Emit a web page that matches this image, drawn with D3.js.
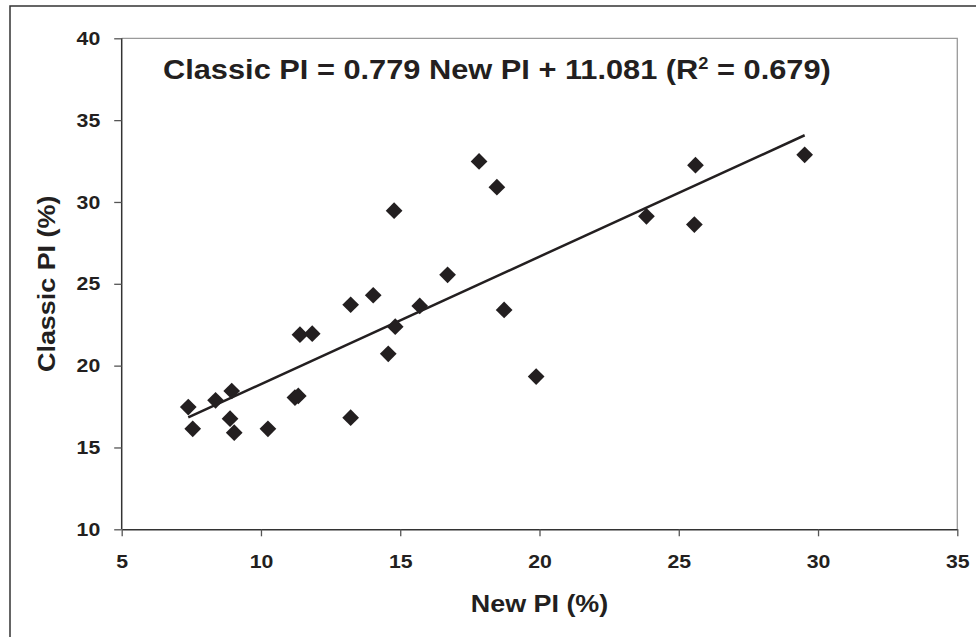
<!DOCTYPE html>
<html>
<head>
<meta charset="utf-8">
<script src="https://cdn.jsdelivr.net/npm/d3@7"></script>
<style>
  body { margin: 0; background: #fff; }
  svg text { font-family: "Liberation Sans", Arial, sans-serif; font-weight: bold; fill: #231f20; }
</style>
</head>
<body>
<div id="chart"></div>
<script>
// values
let newPI     = [7.39, 7.55, 8.37, 8.95, 8.89, 9.04, 10.25, 11.40, 11.84, 11.22, 11.34, 13.22, 14.03, 13.22,
                 14.82, 14.57, 14.78, 15.70, 16.70, 17.83, 18.47, 18.73, 19.88, 23.84, 25.60, 25.56, 29.52];
let classicPI = [17.47, 16.14, 17.88, 18.45, 16.76, 15.90, 16.14, 21.89, 21.95, 18.05, 18.15, 23.72, 24.30, 16.82,
                 22.38, 20.72, 29.47, 23.65, 25.55, 32.48, 30.90, 23.40, 19.33, 29.12, 32.25, 28.62, 32.88];
let xTicks = [5, 10, 15, 20, 25, 30, 35];
let yTicks = [10, 15, 20, 25, 30, 35, 40];
let slope = 0.779;
let intercept = 11.081;
let r2 = 0.679;

let width = 976;
let height = 637;
let margin = {top: 38.3, right: 18.7, bottom: 107.7, left: 121.7};

// the original font is wider than Liberation Sans, stretch along the text
let stretchTick = 1.12;
let stretchTitle = 1.14;
let stretchLabel = 1.17;

let svg = d3.select('#chart').append('svg')
            .attr('width', width)
            .attr('height', height);

// outer frame (cut off at right and bottom)
svg.append('rect')
    .attr('x', 10).attr('y', 6)
    .attr('width', width).attr('height', height)
    .attr('fill', 'none')
    .attr('stroke', '#333')
    .attr('stroke-width', 1.5);

let x = d3.scaleLinear()
            .domain([5, 35])
            .range([margin.left, width - margin.right]);
let y = d3.scaleLinear()
            .domain([10, 40])
            .range([height - margin.bottom, margin.top]);

// plot area border (top / right light grey)
svg.append('path')
    .attr('d', `M${x(5)},${y(40)}H${x(35)}V${y(10)}`)
    .attr('fill', 'none')
    .attr('stroke', '#9a9a9a')
    .attr('stroke-width', 1.3);

let xAxis = svg.append('g')
    .attr('transform', `translate(0,${y(10)})`)
    .call(d3.axisBottom(x).tickValues(xTicks).tickSize(7).tickPadding(18.5).tickSizeOuter(0));
let yAxis = svg.append('g')
    .attr('transform', `translate(${x(5)},0)`)
    .call(d3.axisLeft(y).tickValues(yTicks).tickSize(7.5).tickPadding(14).tickSizeOuter(0));

[xAxis, yAxis].forEach(a => {
    a.attr('font-size', null).attr('font-family', null);
    a.select('.domain').attr('stroke', '#333').attr('stroke-width', 1.5);
    a.selectAll('.tick line').attr('stroke', '#555').attr('stroke-width', 1.3);
    a.selectAll('.tick text')
        .attr('font-size', 19)
        .attr('fill', '#231f20')
        .attr('transform', `scale(${stretchTick},1)`);
});
yAxis.selectAll('.tick text').attr('x', -21.5 / stretchTick);
yAxis.select('.domain').attr('d', `M0,${y(40)}V${y(10)}`);

// trend line
let xr = d3.extent(newPI);
svg.append('line')
    .attr('x1', x(xr[0])).attr('y1', y(slope * xr[0] + intercept))
    .attr('x2', x(xr[1])).attr('y2', y(slope * xr[1] + intercept))
    .attr('stroke', '#231f20')
    .attr('stroke-width', 2.5);

// points
let diamond = d3.symbol().type(d3.symbolSquare).size(140);
svg.append('g')
    .selectAll('path')
    .data(newPI.map((d, i) => [d, classicPI[i]]))
    .join('path')
        .attr('d', diamond)
        .attr('transform', d => `translate(${x(d[0])},${y(d[1])}) rotate(45)`)
        .attr('fill', '#231f20');

// equation
let eq = svg.append('text')
    .attr('transform', `translate(163,79) scale(${stretchTitle},1)`)
    .attr('font-size', 27);
eq.append('tspan').text(`Classic PI = ${slope} New PI + ${intercept} (R`);
eq.append('tspan').attr('font-size', 16).attr('dy', -10).text('2');
eq.append('tspan').attr('dy', 10).text(` = ${r2})`);

// axis titles
svg.append('text')
    .attr('transform', `translate(${(x(5) + x(35)) / 2},612) scale(${stretchLabel},1)`)
    .attr('text-anchor', 'middle')
    .attr('font-size', 23)
    .text('New PI (%)');
svg.append('text')
    .attr('transform', `translate(55,${(y(10) + y(40)) / 2}) rotate(-90) scale(${stretchLabel},1)`)
    .attr('text-anchor', 'middle')
    .attr('font-size', 23)
    .text('Classic PI (%)');
</script>
</body>
</html>
